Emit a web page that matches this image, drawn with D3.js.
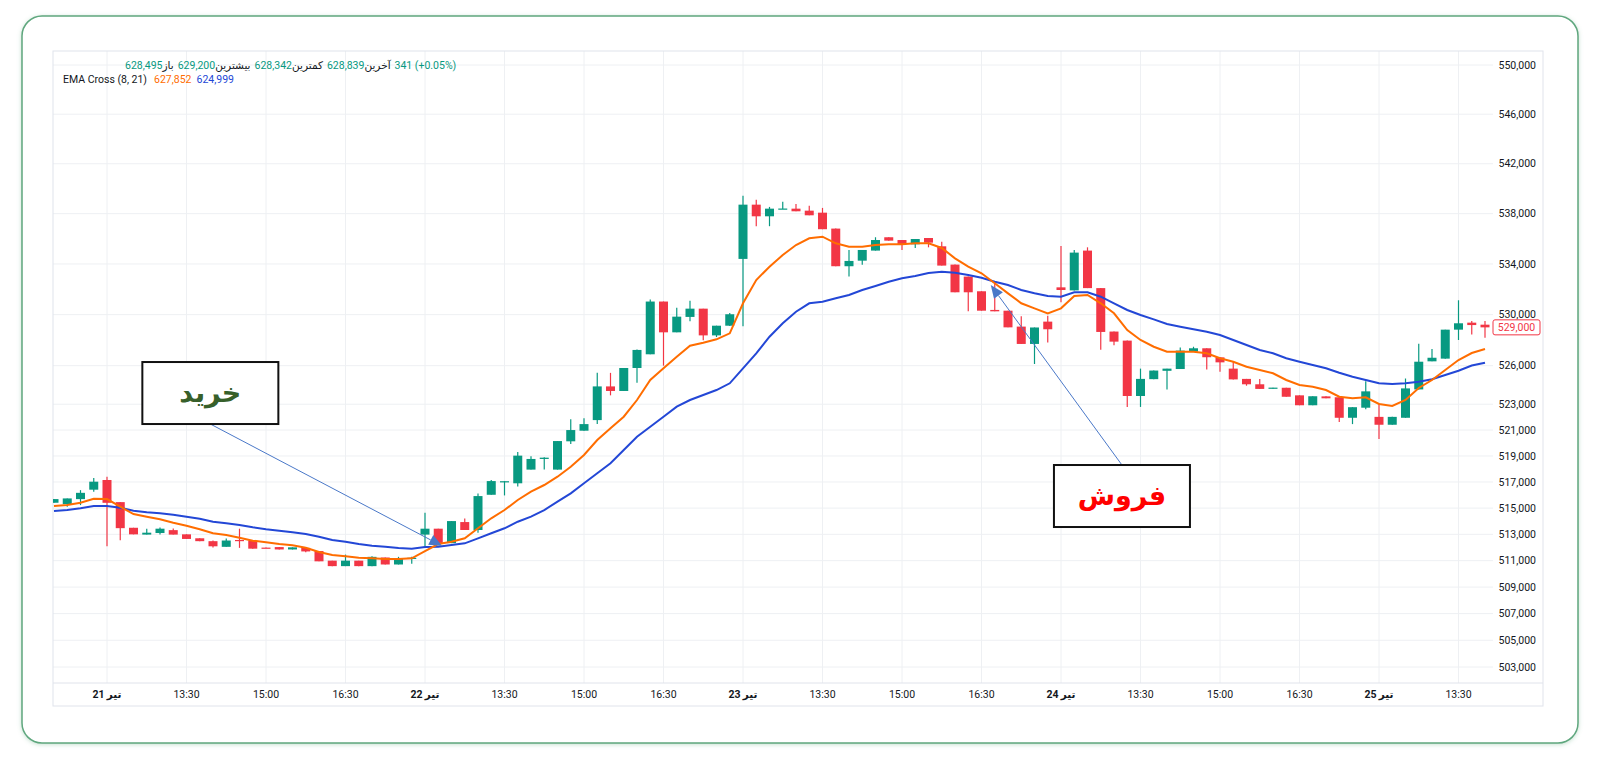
<!DOCTYPE html>
<html>
<head>
<meta charset="utf-8">
<script src="https://cdn.jsdelivr.net/npm/d3@7"></script>
<style>
  body { margin: 0; background: #ffffff; }
  svg text { font-family: Roboto, "DejaVu Sans", sans-serif; }
</style>
</head>
<body>
<div class="chart"></div>
<script>
// 15 minute candles, index 0 = first candle of 21 tir
var firstIndex = -4;

var openVals = [
  515410, 515306, 515688, 516410, 517153, 515458, 513500, 512980, 513100, 513320,
  513000, 512700, 512480, 512050, 512570, 512530, 511990, 512030, 511850, 511970,
  511730, 511000, 510585, 511000, 510585, 511240, 510710, 511170, 512980, 513430,
  512330, 513935, 513330, 516020, 517000, 516900, 517950, 518770, 517950, 520130,
  520950, 521770, 524385, 524030, 525820, 526890, 531030, 528610, 529820, 530470,
  528370, 529130, 534400, 538720, 537790, 538370, 538400, 538240, 538080, 536810,
  533820, 534260, 535060, 536120, 535900, 535560, 536060, 535400, 533950, 533000,
  531840, 530370, 530310, 529060, 527700, 529450, 532150, 531910, 535060, 532090,
  528670, 527960, 523640, 524950, 525600, 525740, 527100, 527360, 526650, 525770,
  524970, 524550, 524210, 524280, 523690, 522920, 523610, 523540, 521950, 522730,
  522020, 521410, 521950, 524150, 526340, 526550, 528820, 529370, 529210
];
var closeVals = [
  515690, 515741, 516169, 517023, 515405, 513470, 513000, 513125, 513430, 512980,
  512650, 512480, 512090, 512530, 512550, 511910, 511960, 511850, 512010, 511700,
  510950, 510585, 511000, 510585, 511290, 510710, 511190, 511220, 513430, 512330,
  514010, 513330, 515920, 517070, 517060, 519025, 518770, 518870, 520150, 521000,
  521460, 524385, 524030, 525820, 527230, 531030, 528610, 529840, 530470, 528370,
  529130, 530030, 538720, 537790, 538400, 538410, 538190, 537870, 536760, 533820,
  534240, 535110, 535900, 535850, 535560, 535980, 535690, 533870, 531760, 531760,
  530310, 530260, 529000, 527700, 528990, 528850, 531940, 534900, 532090, 528640,
  527880, 523640, 524970, 525620, 525770, 527180, 527360, 526660, 526260, 524930,
  524550, 524190, 524290, 523580, 522920, 523620, 523460, 521950, 522770, 524000,
  521410, 522020, 524230, 526310, 526620, 528820, 529320, 529180, 529000
];
var highVals = [
  515690, 515741, 516375, 517306, 517406, 515458, 513500, 513430, 513525, 513450,
  513000, 512700, 512530, 512680, 513430, 512530, 511990, 512030, 512010, 511970,
  511730, 511000, 511460, 511000, 511340, 511240, 511290, 511290, 514640, 513430,
  514010, 514215, 516120, 517150, 517070, 519310, 518980, 518900, 520150, 521840,
  521920, 525440, 525440, 525820, 527260, 531190, 531030, 530550, 531100, 530470,
  529130, 530130, 539440, 539120, 538540, 538960, 538770, 538640, 538460, 536810,
  535100, 535110, 536120, 536120, 535900, 535980, 536060, 535770, 533950, 533000,
  531840, 532440, 530310, 529870, 528990, 529920, 535430, 535110, 535320, 532090,
  528670, 527960, 525770, 525620, 525770, 527430, 527480, 527360, 526650, 526340,
  524970, 524970, 524290, 524280, 523690, 523620, 523610, 523540, 522770, 524790,
  523080, 522020, 525000, 527720, 527300, 528820, 531130, 529490, 529490
];
var lowVals = [
  515410, 515100, 515230, 516257, 512090, 512555, 513000, 512980, 512980, 512980,
  512650, 512480, 511990, 512050, 511970, 511910, 511960, 511850, 511850, 511630,
  510950, 510585, 510585, 510585, 510585, 510710, 510710, 510760, 512070, 512330,
  512330, 513330, 513130, 516020, 515970, 516650, 517950, 517950, 517950, 519920,
  520950, 521460, 523690, 524030, 524660, 526890, 526000, 528610, 529470, 527980,
  528240, 529100, 529080, 537000, 537000, 538370, 538190, 537870, 536760, 533820,
  533000, 533940, 535060, 535850, 535110, 535260, 535320, 533870, 531760, 530260,
  530310, 530260, 529000, 527700, 526130, 527810, 530980, 531910, 532090, 527250,
  527600, 522790, 522790, 524950, 524150, 525740, 527100, 525710, 525520, 524930,
  524440, 524190, 524210, 523580, 522920, 522920, 523460, 521630, 521460, 522620,
  520310, 521410, 521950, 524150, 526340, 526550, 528010, 528440, 528180
];
// EMA(8) and EMA(21)
var emaFast = [
  515160, 515236, 515412, 515718, 515695, 515106, 514549, 514344, 514145, 513886,
  513657, 513383, 513078, 512949, 512743, 512515, 512393, 512264, 512165, 511982,
  511656, 511428, 511330, 511224, 511178, 511125, 511125, 511178, 511732, 512264,
  512439, 512697, 513459, 514221, 514854, 515619, 516255, 516768, 517405, 518174,
  519074, 520230, 521135, 522032, 523327, 524883, 525795, 526701, 527562, 527797,
  528063, 528532, 530891, 532730, 533785, 534710, 535505, 536037, 536165, 535641,
  535369, 535369, 535505, 535561, 535561, 535641, 535641, 535266, 534448, 533785,
  533260, 532469, 531677, 530891, 530497, 530103, 530497, 531467, 531546, 530891,
  530103, 528791, 528008, 527483, 527092, 527092, 527092, 526967, 526576, 526310,
  525920, 525662, 525405, 524883, 524494, 524361, 524104, 523583, 523459, 523537,
  523017, 522862, 523327, 524260, 524883, 525662, 526443, 526990, 527303
];
var emaSlow = [
  514778, 514854, 514984, 515160, 515160, 515030, 514801, 514679, 514603, 514496,
  514344, 514191, 513962, 513840, 513711, 513535, 513383, 513276, 513154, 513024,
  512819, 512568, 512439, 512264, 512135, 512059, 511960, 511907, 512036, 512059,
  512188, 512317, 512697, 513078, 513459, 513962, 514344, 514854, 515489, 516132,
  516898, 517666, 518435, 519459, 520485, 521259, 522032, 522808, 523327, 523715,
  524104, 524626, 525795, 526967, 528266, 529317, 530229, 530891, 531017, 531285,
  531546, 531940, 532256, 532596, 532864, 533046, 533283, 533386, 533307, 533125,
  532912, 532596, 532335, 531940, 531680, 531467, 531412, 531759, 531759, 531412,
  530891, 530363, 529970, 529631, 529261, 529049, 528846, 528658, 528399, 528008,
  527617, 527225, 526967, 526576, 526310, 526052, 525795, 525452, 525140, 524883,
  524626, 524571, 524626, 524750, 524937, 525272, 525608, 526013, 526232
];

var yTicks = [550000, 546000, 542000, 538000, 534000, 530000, 526000, 523000, 521000,
  519000, 517000, 515000, 513000, 511000, 509000, 507000, 505000, 503000];
var xTickIndex = [0, 6, 12, 18, 24, 30, 36, 42, 48, 54, 60, 66, 72, 78, 84, 90, 96, 102];
var xTickLabels = ["21 تیر", "13:30", "15:00", "16:30", "22 تیر", "13:30", "15:00", "16:30",
  "23 تیر", "13:30", "15:00", "16:30", "24 تیر", "13:30", "15:00", "16:30", "25 تیر", "13:30"];
var lastPrice = 529000;

var legendLabels = ["باز", "بیشترین", "کمترین", "آخرین"];
var legendValues = ["628,495", "629,200", "628,342", "628,839"];
var legendChange = "341 (+0.05%)";
var emaTitle = "EMA Cross (8, 21)";
var emaValues = ["627,852", "624,999"];

// annotations: [candle index, price]
var buyLabel = "خرید", sellLabel = "فروش";
var buyBox = [7.8, 523870], buyTip = [25.3, 512110];
var sellBox = [76.6, 515925], sellTip = [66.7, 532335];

var svgWidth = 1600, svgHeight = 762;
var upColor = "#089981", downColor = "#f23645";
var fastColor = "#ff6d00", slowColor = "#2347d6";
var gridColor = "#eef0f3", frameColor = "#e0e3eb", textColor = "#131722";
var arrowColor = "#4a78c8";
var fontSize = "10.5px";

var plot = {left: 53, right: 1493, top: 51, bottom: 683};

var $svg = d3.select(".chart").append("svg")
  .attr("width", svgWidth).attr("height", svgHeight);

// card with soft shadow
var $defs = $svg.append("defs");
var $shadow = $defs.append("filter").attr("id", "cardShadow")
  .attr("x", "-5%").attr("y", "-5%").attr("width", "110%").attr("height", "110%");
$shadow.append("feDropShadow").attr("dx", 0).attr("dy", 1).attr("stdDeviation", 2)
  .attr("flood-color", "#5fa77e").attr("flood-opacity", 0.35);

$svg.append("rect")
  .attr("x", 22).attr("y", 16).attr("width", 1556).attr("height", 727)
  .attr("rx", 20).attr("fill", "#fff")
  .attr("stroke", "#5fa77e").attr("stroke-width", 1.5)
  .attr("filter", "url(#cardShadow)");

var xScale = d3.scaleLinear().domain([-4, 104]).range([54, 1485]);
var yScale = d3.scaleLog().domain([550000, 503000]).range([65, 667]);

var candles = openVals.map((o, i) => ({
  i: i + firstIndex, o: o, h: highVals[i], l: lowVals[i], c: closeVals[i]
}));

$defs.append("clipPath").attr("id", "plotClip").append("rect")
  .attr("x", plot.left).attr("y", plot.top)
  .attr("width", plot.right - plot.left).attr("height", plot.bottom - plot.top);

// grid
var $grid = $svg.append("g");
$grid.selectAll(".hgrid").data(yTicks).enter().append("line")
  .attr("x1", plot.left).attr("x2", plot.right)
  .attr("y1", d => yScale(d)).attr("y2", d => yScale(d))
  .attr("stroke", gridColor).attr("stroke-width", 1);
$grid.selectAll(".vgrid").data(xTickIndex).enter().append("line")
  .attr("x1", d => xScale(d)).attr("x2", d => xScale(d))
  .attr("y1", plot.top).attr("y2", plot.bottom)
  .attr("stroke", gridColor).attr("stroke-width", 1);

// frame
$svg.append("rect")
  .attr("x", 53).attr("y", 51).attr("width", 1490).attr("height", 655)
  .attr("fill", "none").attr("stroke", frameColor);
$svg.append("line")
  .attr("x1", 53).attr("x2", 1543).attr("y1", plot.bottom).attr("y2", plot.bottom)
  .attr("stroke", frameColor);

var $plot = $svg.append("g").attr("clip-path", "url(#plotClip)");

var step = xScale(1) - xScale(0);
var bodyW = step * 0.68;

var $candle = $plot.selectAll(".candle").data(candles).enter().append("g")
  .attr("class", "candle");
$candle.append("line")
  .attr("x1", d => xScale(d.i)).attr("x2", d => xScale(d.i))
  .attr("y1", d => yScale(d.h)).attr("y2", d => yScale(d.l))
  .attr("stroke", d => d.c >= d.o ? upColor : downColor).attr("stroke-width", 1.2);
$candle.append("rect")
  .attr("x", d => xScale(d.i) - bodyW / 2)
  .attr("width", bodyW)
  .attr("y", d => yScale(Math.max(d.o, d.c)))
  .attr("height", d => Math.max(1.2, yScale(Math.min(d.o, d.c)) - yScale(Math.max(d.o, d.c))))
  .attr("fill", d => d.c >= d.o ? upColor : downColor);

var line = d3.line().x((d, i) => xScale(i + firstIndex)).y(d => yScale(d));
$plot.append("path").datum(emaSlow).attr("d", line)
  .attr("fill", "none").attr("stroke", slowColor).attr("stroke-width", 2);
$plot.append("path").datum(emaFast).attr("d", line)
  .attr("fill", "none").attr("stroke", fastColor).attr("stroke-width", 2);

// y axis labels
$svg.append("g").selectAll("text").data(yTicks).enter().append("text")
  .attr("x", 1536).attr("y", d => yScale(d)).attr("dy", "0.35em")
  .attr("text-anchor", "end").attr("font-size", fontSize).attr("fill", textColor)
  .text(d => d3.format(",")(d));

// last price tag
var lastY = yScale(lastPrice);
$svg.append("rect")
  .attr("x", 1493).attr("y", lastY - 7.5).attr("width", 47).attr("height", 15).attr("rx", 2)
  .attr("fill", "#fff").attr("stroke", downColor);
$svg.append("text")
  .attr("x", 1516.5).attr("y", lastY).attr("dy", "0.35em").attr("text-anchor", "middle")
  .attr("font-size", fontSize).attr("fill", downColor)
  .text(d3.format(",")(lastPrice));

// places pieces of text one after another, left to right, so that
// persian words and numbers do not get reordered
function rowOfTexts($g, x, y, pieces) {
  var cx = x;
  pieces.forEach(p => {
    cx += p.gap || 0;
    var t = $g.append("text").attr("x", cx).attr("y", y).attr("dy", "0.35em")
      .attr("font-size", p.size || fontSize).attr("fill", p.color)
      .style("font-weight", p.bold ? "bold" : "normal")
      .text(p.text);
    cx += t.node().getComputedTextLength();
  });
  return cx - x;
}

// x axis labels
var $xAxis = $svg.append("g");
xTickIndex.forEach((d, i) => {
  var lab = xTickLabels[i];
  var cx = xScale(d);
  if (lab.indexOf(":") >= 0) {
    $xAxis.append("text").attr("x", cx).attr("y", 694).attr("dy", "0.35em")
      .attr("text-anchor", "middle").attr("font-size", fontSize).attr("fill", textColor)
      .text(lab);
  } else {
    var parts = lab.split(" ");
    var $g = $xAxis.append("g");
    var w = rowOfTexts($g, 0, 694, [
      {text: parts[0], color: textColor, bold: true},
      {text: parts[1], color: textColor, bold: true, gap: 2}
    ]);
    $g.attr("transform", `translate(${cx - w / 2},0)`);
  }
});

// legend
var leg1 = [];
legendLabels.forEach((lab, i) => {
  leg1.push({text: legendValues[i], color: upColor, gap: i ? 4 : 0});
  leg1.push({text: lab, color: textColor});
});
leg1.push({text: legendChange, color: upColor, gap: 4});
rowOfTexts($svg.append("g"), 125, 65, leg1);

rowOfTexts($svg.append("g"), 63, 79, [
  {text: emaTitle, color: textColor},
  {text: emaValues[0], color: fastColor, gap: 7},
  {text: emaValues[1], color: slowColor, gap: 5}
]);

// annotations
var boxW = 136, boxH = 62;
function drawNote(box, tip, label, color, fromTop) {
  var bx = xScale(box[0]), by = yScale(box[1]);
  var sx = bx, sy = fromTop ? by - boxH / 2 : by + boxH / 2;
  var tx = xScale(tip[0]), ty = yScale(tip[1]);
  var ang = Math.atan2(ty - sy, tx - sx);
  var len = 13, half = 5.5;
  var baseX = tx - len * Math.cos(ang), baseY = ty - len * Math.sin(ang);
  $svg.append("line")
    .attr("x1", sx).attr("y1", sy).attr("x2", baseX).attr("y2", baseY)
    .attr("stroke", arrowColor).attr("stroke-width", 1);
  var pts = [
    [tx, ty],
    [baseX + half * Math.sin(ang), baseY - half * Math.cos(ang)],
    [baseX - half * Math.sin(ang), baseY + half * Math.cos(ang)]
  ];
  $svg.append("path").attr("d", "M" + pts.join("L") + "Z").attr("fill", arrowColor);
  $svg.append("rect")
    .attr("x", bx - boxW / 2).attr("y", by - boxH / 2).attr("width", boxW).attr("height", boxH)
    .attr("fill", "#fff").attr("stroke", "#111").attr("stroke-width", 2);
  $svg.append("text")
    .attr("x", bx).attr("y", by).attr("dy", "0.35em").attr("text-anchor", "middle")
    .attr("font-size", "27px").style("font-weight", "bold")
    .style("font-family", "'DejaVu Sans', sans-serif")
    .attr("fill", color).text(label);
}
drawNote(buyBox, buyTip, buyLabel, "#37602a", false);
drawNote(sellBox, sellTip, sellLabel, "#ff0000", true);
</script>
</body>
</html>
